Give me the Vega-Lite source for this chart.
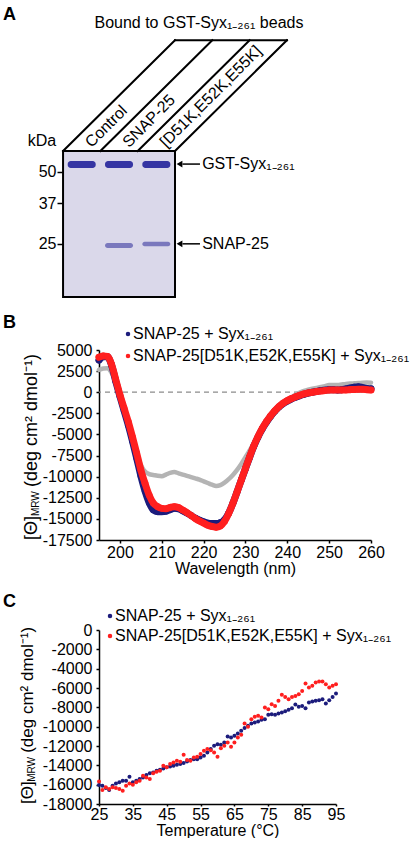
{
  "$schema": "https://vega.github.io/schema/vega-lite/v6.json",
  "background": "white",
  "padding": {"left": 3, "top": 6, "right": 0, "bottom": 0},
  "columns": 1,
  "spacing": 16,
  "align": "none",
  "resolve": {"scale": {"color": "independent"}, "legend": {"color": "independent"}},
  "config": {
    "font": "Liberation Sans",
    "view": {"stroke": null},
    "axis": {"labelFont": "Liberation Sans", "titleFont": "Liberation Sans", "labelFontSize": 16, "titleFontSize": 16, "titleFontWeight": "normal", "labelColor": "#000", "titleColor": "#000", "domainColor": "#000", "domainWidth": 1.5, "tickColor": "#000", "tickWidth": 1.5, "grid": false, "labelOverlap": false, "labelFlush": false},
    "legend": {"labelFont": "Liberation Sans", "labelFontSize": 16, "labelColor": "#000", "labelLimit": 500, "symbolType": "circle", "symbolSize": 20, "symbolStrokeWidth": 0, "symbolOpacity": 1, "padding": 0, "labelOffset": 0},
    "text": {"color": "#000", "font": "Liberation Sans"}
  },
  "datasets": {
    "gel": [
      {"lane_no": 1, "lane": "Control", "protein": "GST-Syx₁₋₂₆₁", "kDa_top": 55.4, "kDa_bottom": 51.8},
      {"lane_no": 2, "lane": "SNAP-25", "protein": "GST-Syx₁₋₂₆₁", "kDa_top": 55.4, "kDa_bottom": 51.8},
      {"lane_no": 3, "lane": "[D51K,E52K,E55K]", "protein": "GST-Syx₁₋₂₆₁", "kDa_top": 55.4, "kDa_bottom": 51.8},
      {"lane_no": 2, "lane": "SNAP-25", "protein": "SNAP-25", "kDa_top": 25.2, "kDa_bottom": 24.0},
      {"lane_no": 3, "lane": "[D51K,E52K,E55K]", "protein": "SNAP-25", "kDa_top": 25.5, "kDa_bottom": 24.4}
    ],
    "lanes": [{"lane_no": 1, "lane": "Control"}, {"lane_no": 2, "lane": "SNAP-25"}, {"lane_no": 3, "lane": "[D51K,E52K,E55K]"}],
    "header": [
      {"x_start": 0.5, "x_end": 3.5, "kDa_start": 61, "kDa_end": 177},
      {"x_start": 1.5, "x_end": 4.5, "kDa_start": 61, "kDa_end": 177},
      {"x_start": 2.5, "x_end": 5.5, "kDa_start": 61, "kDa_end": 177},
      {"x_start": 3.5, "x_end": 6.5, "kDa_start": 61, "kDa_end": 177},
      {"x_start": 3.5, "x_end": 6.5, "kDa_start": 177, "kDa_end": 177}
    ],
    "arrows": [{"target": "GST-Syx₁₋₂₆₁", "kDa": 53.8}, {"target": "SNAP-25", "kDa": 25.0}],
    "cd": [
      {"nm":195,"series":"Control","theta":2650},{"nm":196,"series":"Control","theta":2800},{"nm":197,"series":"Control","theta":2850},{"nm":198,"series":"Control","theta":2300},{"nm":199,"series":"Control","theta":1250},{"nm":200,"series":"Control","theta":-300},{"nm":201,"series":"Control","theta":-1900},{"nm":202,"series":"Control","theta":-3700},{"nm":203,"series":"Control","theta":-5500},{"nm":204,"series":"Control","theta":-7250},{"nm":205,"series":"Control","theta":-8600},{"nm":206,"series":"Control","theta":-9400},{"nm":207,"series":"Control","theta":-9700},{"nm":208,"series":"Control","theta":-9800},{"nm":209,"series":"Control","theta":-9900},{"nm":210,"series":"Control","theta":-9950},{"nm":211,"series":"Control","theta":-9750},{"nm":212,"series":"Control","theta":-9550},{"nm":213,"series":"Control","theta":-9450},{"nm":214,"series":"Control","theta":-9600},{"nm":215,"series":"Control","theta":-9750},{"nm":216,"series":"Control","theta":-9900},{"nm":217,"series":"Control","theta":-10050},{"nm":218,"series":"Control","theta":-10200},{"nm":219,"series":"Control","theta":-10350},{"nm":220,"series":"Control","theta":-10550},{"nm":221,"series":"Control","theta":-10750},{"nm":222,"series":"Control","theta":-10950},{"nm":223,"series":"Control","theta":-11100},{"nm":224,"series":"Control","theta":-11000},{"nm":225,"series":"Control","theta":-10700},{"nm":226,"series":"Control","theta":-10300},{"nm":227,"series":"Control","theta":-9800},{"nm":228,"series":"Control","theta":-9200},{"nm":229,"series":"Control","theta":-8500},{"nm":230,"series":"Control","theta":-7700},{"nm":231,"series":"Control","theta":-6900},{"nm":232,"series":"Control","theta":-6000},{"nm":233,"series":"Control","theta":-5100},{"nm":234,"series":"Control","theta":-4400},{"nm":235,"series":"Control","theta":-3750},{"nm":236,"series":"Control","theta":-3100},{"nm":237,"series":"Control","theta":-2450},{"nm":238,"series":"Control","theta":-1850},{"nm":239,"series":"Control","theta":-1350},{"nm":240,"series":"Control","theta":-950},{"nm":241,"series":"Control","theta":-600},{"nm":242,"series":"Control","theta":-300},{"nm":243,"series":"Control","theta":-50},{"nm":244,"series":"Control","theta":150},{"nm":245,"series":"Control","theta":300},{"nm":246,"series":"Control","theta":420},{"nm":247,"series":"Control","theta":520},{"nm":248,"series":"Control","theta":620},{"nm":249,"series":"Control","theta":720},{"nm":250,"series":"Control","theta":850},{"nm":251,"series":"Control","theta":870},{"nm":252,"series":"Control","theta":860},{"nm":253,"series":"Control","theta":920},{"nm":254,"series":"Control","theta":980},{"nm":255,"series":"Control","theta":1020},{"nm":256,"series":"Control","theta":1050},{"nm":257,"series":"Control","theta":1080},{"nm":258,"series":"Control","theta":1130},{"nm":259,"series":"Control","theta":1150},{"nm":260,"series":"Control","theta":1130},
      {"nm":195,"series":"SNAP-25 + Syx₁₋₂₆₁","theta":3800},{"nm":196,"series":"SNAP-25 + Syx₁₋₂₆₁","theta":4200},{"nm":197,"series":"SNAP-25 + Syx₁₋₂₆₁","theta":4200},{"nm":198,"series":"SNAP-25 + Syx₁₋₂₆₁","theta":3200},{"nm":199,"series":"SNAP-25 + Syx₁₋₂₆₁","theta":1300},{"nm":200,"series":"SNAP-25 + Syx₁₋₂₆₁","theta":-500},{"nm":201,"series":"SNAP-25 + Syx₁₋₂₆₁","theta":-2200},{"nm":202,"series":"SNAP-25 + Syx₁₋₂₆₁","theta":-3900},{"nm":203,"series":"SNAP-25 + Syx₁₋₂₆₁","theta":-5800},{"nm":204,"series":"SNAP-25 + Syx₁₋₂₆₁","theta":-7800},{"nm":205,"series":"SNAP-25 + Syx₁₋₂₆₁","theta":-9900},{"nm":206,"series":"SNAP-25 + Syx₁₋₂₆₁","theta":-11700},{"nm":207,"series":"SNAP-25 + Syx₁₋₂₆₁","theta":-13100},{"nm":208,"series":"SNAP-25 + Syx₁₋₂₆₁","theta":-13950},{"nm":209,"series":"SNAP-25 + Syx₁₋₂₆₁","theta":-14150},{"nm":210,"series":"SNAP-25 + Syx₁₋₂₆₁","theta":-14150},{"nm":211,"series":"SNAP-25 + Syx₁₋₂₆₁","theta":-14100},{"nm":212,"series":"SNAP-25 + Syx₁₋₂₆₁","theta":-13900},{"nm":213,"series":"SNAP-25 + Syx₁₋₂₆₁","theta":-13750},{"nm":214,"series":"SNAP-25 + Syx₁₋₂₆₁","theta":-13800},{"nm":215,"series":"SNAP-25 + Syx₁₋₂₆₁","theta":-14050},{"nm":216,"series":"SNAP-25 + Syx₁₋₂₆₁","theta":-14300},{"nm":217,"series":"SNAP-25 + Syx₁₋₂₆₁","theta":-14600},{"nm":218,"series":"SNAP-25 + Syx₁₋₂₆₁","theta":-14900},{"nm":219,"series":"SNAP-25 + Syx₁₋₂₆₁","theta":-15150},{"nm":220,"series":"SNAP-25 + Syx₁₋₂₆₁","theta":-15350},{"nm":221,"series":"SNAP-25 + Syx₁₋₂₆₁","theta":-15500},{"nm":222,"series":"SNAP-25 + Syx₁₋₂₆₁","theta":-15550},{"nm":223,"series":"SNAP-25 + Syx₁₋₂₆₁","theta":-15550},{"nm":224,"series":"SNAP-25 + Syx₁₋₂₆₁","theta":-15450},{"nm":225,"series":"SNAP-25 + Syx₁₋₂₆₁","theta":-15100},{"nm":226,"series":"SNAP-25 + Syx₁₋₂₆₁","theta":-14300},{"nm":227,"series":"SNAP-25 + Syx₁₋₂₆₁","theta":-13150},{"nm":228,"series":"SNAP-25 + Syx₁₋₂₆₁","theta":-11800},{"nm":229,"series":"SNAP-25 + Syx₁₋₂₆₁","theta":-10400},{"nm":230,"series":"SNAP-25 + Syx₁₋₂₆₁","theta":-9050},{"nm":231,"series":"SNAP-25 + Syx₁₋₂₆₁","theta":-7700},{"nm":232,"series":"SNAP-25 + Syx₁₋₂₆₁","theta":-6400},{"nm":233,"series":"SNAP-25 + Syx₁₋₂₆₁","theta":-5300},{"nm":234,"series":"SNAP-25 + Syx₁₋₂₆₁","theta":-4350},{"nm":235,"series":"SNAP-25 + Syx₁₋₂₆₁","theta":-3550},{"nm":236,"series":"SNAP-25 + Syx₁₋₂₆₁","theta":-2850},{"nm":237,"series":"SNAP-25 + Syx₁₋₂₆₁","theta":-2250},{"nm":238,"series":"SNAP-25 + Syx₁₋₂₆₁","theta":-1750},{"nm":239,"series":"SNAP-25 + Syx₁₋₂₆₁","theta":-1350},{"nm":240,"series":"SNAP-25 + Syx₁₋₂₆₁","theta":-1050},{"nm":241,"series":"SNAP-25 + Syx₁₋₂₆₁","theta":-800},{"nm":242,"series":"SNAP-25 + Syx₁₋₂₆₁","theta":-600},{"nm":243,"series":"SNAP-25 + Syx₁₋₂₆₁","theta":-400},{"nm":244,"series":"SNAP-25 + Syx₁₋₂₆₁","theta":-250},{"nm":245,"series":"SNAP-25 + Syx₁₋₂₆₁","theta":-100},{"nm":246,"series":"SNAP-25 + Syx₁₋₂₆₁","theta":0},{"nm":247,"series":"SNAP-25 + Syx₁₋₂₆₁","theta":100},{"nm":248,"series":"SNAP-25 + Syx₁₋₂₆₁","theta":200},{"nm":249,"series":"SNAP-25 + Syx₁₋₂₆₁","theta":250},{"nm":250,"series":"SNAP-25 + Syx₁₋₂₆₁","theta":300},{"nm":251,"series":"SNAP-25 + Syx₁₋₂₆₁","theta":300},{"nm":252,"series":"SNAP-25 + Syx₁₋₂₆₁","theta":250},{"nm":253,"series":"SNAP-25 + Syx₁₋₂₆₁","theta":300},{"nm":254,"series":"SNAP-25 + Syx₁₋₂₆₁","theta":400},{"nm":255,"series":"SNAP-25 + Syx₁₋₂₆₁","theta":500},{"nm":256,"series":"SNAP-25 + Syx₁₋₂₆₁","theta":600},{"nm":257,"series":"SNAP-25 + Syx₁₋₂₆₁","theta":650},{"nm":258,"series":"SNAP-25 + Syx₁₋₂₆₁","theta":550},{"nm":259,"series":"SNAP-25 + Syx₁₋₂₆₁","theta":450},{"nm":260,"series":"SNAP-25 + Syx₁₋₂₆₁","theta":400},
      {"nm":195,"series":"SNAP-25[D51K,E52K,E55K] + Syx₁₋₂₆₁","theta":4150},{"nm":196,"series":"SNAP-25[D51K,E52K,E55K] + Syx₁₋₂₆₁","theta":4300},{"nm":197,"series":"SNAP-25[D51K,E52K,E55K] + Syx₁₋₂₆₁","theta":4250},{"nm":198,"series":"SNAP-25[D51K,E52K,E55K] + Syx₁₋₂₆₁","theta":3300},{"nm":199,"series":"SNAP-25[D51K,E52K,E55K] + Syx₁₋₂₆₁","theta":1500},{"nm":200,"series":"SNAP-25[D51K,E52K,E55K] + Syx₁₋₂₆₁","theta":-300},{"nm":201,"series":"SNAP-25[D51K,E52K,E55K] + Syx₁₋₂₆₁","theta":-1900},{"nm":202,"series":"SNAP-25[D51K,E52K,E55K] + Syx₁₋₂₆₁","theta":-3500},{"nm":203,"series":"SNAP-25[D51K,E52K,E55K] + Syx₁₋₂₆₁","theta":-5300},{"nm":204,"series":"SNAP-25[D51K,E52K,E55K] + Syx₁₋₂₆₁","theta":-7200},{"nm":205,"series":"SNAP-25[D51K,E52K,E55K] + Syx₁₋₂₆₁","theta":-9200},{"nm":206,"series":"SNAP-25[D51K,E52K,E55K] + Syx₁₋₂₆₁","theta":-10800},{"nm":207,"series":"SNAP-25[D51K,E52K,E55K] + Syx₁₋₂₆₁","theta":-12200},{"nm":208,"series":"SNAP-25[D51K,E52K,E55K] + Syx₁₋₂₆₁","theta":-13150},{"nm":209,"series":"SNAP-25[D51K,E52K,E55K] + Syx₁₋₂₆₁","theta":-13550},{"nm":210,"series":"SNAP-25[D51K,E52K,E55K] + Syx₁₋₂₆₁","theta":-13750},{"nm":211,"series":"SNAP-25[D51K,E52K,E55K] + Syx₁₋₂₆₁","theta":-13800},{"nm":212,"series":"SNAP-25[D51K,E52K,E55K] + Syx₁₋₂₆₁","theta":-13650},{"nm":213,"series":"SNAP-25[D51K,E52K,E55K] + Syx₁₋₂₆₁","theta":-13550},{"nm":214,"series":"SNAP-25[D51K,E52K,E55K] + Syx₁₋₂₆₁","theta":-13650},{"nm":215,"series":"SNAP-25[D51K,E52K,E55K] + Syx₁₋₂₆₁","theta":-13950},{"nm":216,"series":"SNAP-25[D51K,E52K,E55K] + Syx₁₋₂₆₁","theta":-14250},{"nm":217,"series":"SNAP-25[D51K,E52K,E55K] + Syx₁₋₂₆₁","theta":-14600},{"nm":218,"series":"SNAP-25[D51K,E52K,E55K] + Syx₁₋₂₆₁","theta":-14950},{"nm":219,"series":"SNAP-25[D51K,E52K,E55K] + Syx₁₋₂₆₁","theta":-15250},{"nm":220,"series":"SNAP-25[D51K,E52K,E55K] + Syx₁₋₂₆₁","theta":-15500},{"nm":221,"series":"SNAP-25[D51K,E52K,E55K] + Syx₁₋₂₆₁","theta":-15750},{"nm":222,"series":"SNAP-25[D51K,E52K,E55K] + Syx₁₋₂₆₁","theta":-15900},{"nm":223,"series":"SNAP-25[D51K,E52K,E55K] + Syx₁₋₂₆₁","theta":-16000},{"nm":224,"series":"SNAP-25[D51K,E52K,E55K] + Syx₁₋₂₆₁","theta":-15850},{"nm":225,"series":"SNAP-25[D51K,E52K,E55K] + Syx₁₋₂₆₁","theta":-15300},{"nm":226,"series":"SNAP-25[D51K,E52K,E55K] + Syx₁₋₂₆₁","theta":-14350},{"nm":227,"series":"SNAP-25[D51K,E52K,E55K] + Syx₁₋₂₆₁","theta":-13150},{"nm":228,"series":"SNAP-25[D51K,E52K,E55K] + Syx₁₋₂₆₁","theta":-11800},{"nm":229,"series":"SNAP-25[D51K,E52K,E55K] + Syx₁₋₂₆₁","theta":-10400},{"nm":230,"series":"SNAP-25[D51K,E52K,E55K] + Syx₁₋₂₆₁","theta":-9000},{"nm":231,"series":"SNAP-25[D51K,E52K,E55K] + Syx₁₋₂₆₁","theta":-7650},{"nm":232,"series":"SNAP-25[D51K,E52K,E55K] + Syx₁₋₂₆₁","theta":-6350},{"nm":233,"series":"SNAP-25[D51K,E52K,E55K] + Syx₁₋₂₆₁","theta":-5250},{"nm":234,"series":"SNAP-25[D51K,E52K,E55K] + Syx₁₋₂₆₁","theta":-4300},{"nm":235,"series":"SNAP-25[D51K,E52K,E55K] + Syx₁₋₂₆₁","theta":-3500},{"nm":236,"series":"SNAP-25[D51K,E52K,E55K] + Syx₁₋₂₆₁","theta":-2800},{"nm":237,"series":"SNAP-25[D51K,E52K,E55K] + Syx₁₋₂₆₁","theta":-2200},{"nm":238,"series":"SNAP-25[D51K,E52K,E55K] + Syx₁₋₂₆₁","theta":-1700},{"nm":239,"series":"SNAP-25[D51K,E52K,E55K] + Syx₁₋₂₆₁","theta":-1300},{"nm":240,"series":"SNAP-25[D51K,E52K,E55K] + Syx₁₋₂₆₁","theta":-1000},{"nm":241,"series":"SNAP-25[D51K,E52K,E55K] + Syx₁₋₂₆₁","theta":-750},{"nm":242,"series":"SNAP-25[D51K,E52K,E55K] + Syx₁₋₂₆₁","theta":-550},{"nm":243,"series":"SNAP-25[D51K,E52K,E55K] + Syx₁₋₂₆₁","theta":-350},{"nm":244,"series":"SNAP-25[D51K,E52K,E55K] + Syx₁₋₂₆₁","theta":-200},{"nm":245,"series":"SNAP-25[D51K,E52K,E55K] + Syx₁₋₂₆₁","theta":-80},{"nm":246,"series":"SNAP-25[D51K,E52K,E55K] + Syx₁₋₂₆₁","theta":0},{"nm":247,"series":"SNAP-25[D51K,E52K,E55K] + Syx₁₋₂₆₁","theta":80},{"nm":248,"series":"SNAP-25[D51K,E52K,E55K] + Syx₁₋₂₆₁","theta":150},{"nm":249,"series":"SNAP-25[D51K,E52K,E55K] + Syx₁₋₂₆₁","theta":200},{"nm":250,"series":"SNAP-25[D51K,E52K,E55K] + Syx₁₋₂₆₁","theta":250},{"nm":251,"series":"SNAP-25[D51K,E52K,E55K] + Syx₁₋₂₆₁","theta":260},{"nm":252,"series":"SNAP-25[D51K,E52K,E55K] + Syx₁₋₂₆₁","theta":260},{"nm":253,"series":"SNAP-25[D51K,E52K,E55K] + Syx₁₋₂₆₁","theta":250},{"nm":254,"series":"SNAP-25[D51K,E52K,E55K] + Syx₁₋₂₆₁","theta":270},{"nm":255,"series":"SNAP-25[D51K,E52K,E55K] + Syx₁₋₂₆₁","theta":300},{"nm":256,"series":"SNAP-25[D51K,E52K,E55K] + Syx₁₋₂₆₁","theta":330},{"nm":257,"series":"SNAP-25[D51K,E52K,E55K] + Syx₁₋₂₆₁","theta":350},{"nm":258,"series":"SNAP-25[D51K,E52K,E55K] + Syx₁₋₂₆₁","theta":340},{"nm":259,"series":"SNAP-25[D51K,E52K,E55K] + Syx₁₋₂₆₁","theta":300},{"nm":260,"series":"SNAP-25[D51K,E52K,E55K] + Syx₁₋₂₆₁","theta":260}
    ],
    "melt": [
      {"temp":25,"series":"SNAP-25 + Syx₁₋₂₆₁","theta":-16040},{"temp":26,"series":"SNAP-25 + Syx₁₋₂₆₁","theta":-16110},{"temp":27,"series":"SNAP-25 + Syx₁₋₂₆₁","theta":-16350},{"temp":28,"series":"SNAP-25 + Syx₁₋₂₆₁","theta":-16560},{"temp":29,"series":"SNAP-25 + Syx₁₋₂₆₁","theta":-16110},{"temp":30,"series":"SNAP-25 + Syx₁₋₂₆₁","theta":-15870},{"temp":31,"series":"SNAP-25 + Syx₁₋₂₆₁","theta":-15760},{"temp":32,"series":"SNAP-25 + Syx₁₋₂₆₁","theta":-15590},{"temp":33,"series":"SNAP-25 + Syx₁₋₂₆₁","theta":-15590},{"temp":34,"series":"SNAP-25 + Syx₁₋₂₆₁","theta":-15180},{"temp":35,"series":"SNAP-25 + Syx₁₋₂₆₁","theta":-15760},{"temp":36,"series":"SNAP-25 + Syx₁₋₂₆₁","theta":-15590},{"temp":37,"series":"SNAP-25 + Syx₁₋₂₆₁","theta":-15420},{"temp":38,"series":"SNAP-25 + Syx₁₋₂₆₁","theta":-15250},{"temp":39,"series":"SNAP-25 + Syx₁₋₂₆₁","theta":-15010},{"temp":40,"series":"SNAP-25 + Syx₁₋₂₆₁","theta":-14830},{"temp":41,"series":"SNAP-25 + Syx₁₋₂₆₁","theta":-14730},{"temp":42,"series":"SNAP-25 + Syx₁₋₂₆₁","theta":-14560},{"temp":43,"series":"SNAP-25 + Syx₁₋₂₆₁","theta":-14460},{"temp":44,"series":"SNAP-25 + Syx₁₋₂₆₁","theta":-14320},{"temp":45,"series":"SNAP-25 + Syx₁₋₂₆₁","theta":-14210},{"temp":46,"series":"SNAP-25 + Syx₁₋₂₆₁","theta":-14110},{"temp":47,"series":"SNAP-25 + Syx₁₋₂₆₁","theta":-14040},{"temp":48,"series":"SNAP-25 + Syx₁₋₂₆₁","theta":-13940},{"temp":49,"series":"SNAP-25 + Syx₁₋₂₆₁","theta":-13870},{"temp":50,"series":"SNAP-25 + Syx₁₋₂₆₁","theta":-13770},{"temp":51,"series":"SNAP-25 + Syx₁₋₂₆₁","theta":-13600},{"temp":52,"series":"SNAP-25 + Syx₁₋₂₆₁","theta":-13460},{"temp":53,"series":"SNAP-25 + Syx₁₋₂₆₁","theta":-13360},{"temp":54,"series":"SNAP-25 + Syx₁₋₂₆₁","theta":-13360},{"temp":55,"series":"SNAP-25 + Syx₁₋₂₆₁","theta":-13180},{"temp":56,"series":"SNAP-25 + Syx₁₋₂₆₁","theta":-13010},{"temp":57,"series":"SNAP-25 + Syx₁₋₂₆₁","theta":-12670},{"temp":58,"series":"SNAP-25 + Syx₁₋₂₆₁","theta":-12320},{"temp":59,"series":"SNAP-25 + Syx₁₋₂₆₁","theta":-11980},{"temp":60,"series":"SNAP-25 + Syx₁₋₂₆₁","theta":-11810},{"temp":61,"series":"SNAP-25 + Syx₁₋₂₆₁","theta":-11880},{"temp":62,"series":"SNAP-25 + Syx₁₋₂₆₁","theta":-11630},{"temp":63,"series":"SNAP-25 + Syx₁₋₂₆₁","theta":-11010},{"temp":64,"series":"SNAP-25 + Syx₁₋₂₆₁","theta":-11120},{"temp":65,"series":"SNAP-25 + Syx₁₋₂₆₁","theta":-10950},{"temp":66,"series":"SNAP-25 + Syx₁₋₂₆₁","theta":-10710},{"temp":67,"series":"SNAP-25 + Syx₁₋₂₆₁","theta":-10430},{"temp":68,"series":"SNAP-25 + Syx₁₋₂₆₁","theta":-10150},{"temp":69,"series":"SNAP-25 + Syx₁₋₂₆₁","theta":-9910},{"temp":70,"series":"SNAP-25 + Syx₁₋₂₆₁","theta":-9670},{"temp":71,"series":"SNAP-25 + Syx₁₋₂₆₁","theta":-9570},{"temp":72,"series":"SNAP-25 + Syx₁₋₂₆₁","theta":-9470},{"temp":73,"series":"SNAP-25 + Syx₁₋₂₆₁","theta":-9290},{"temp":74,"series":"SNAP-25 + Syx₁₋₂₆₁","theta":-9220},{"temp":75,"series":"SNAP-25 + Syx₁₋₂₆₁","theta":-8780},{"temp":76,"series":"SNAP-25 + Syx₁₋₂₆₁","theta":-8710},{"temp":77,"series":"SNAP-25 + Syx₁₋₂₆₁","theta":-8780},{"temp":78,"series":"SNAP-25 + Syx₁₋₂₆₁","theta":-8640},{"temp":79,"series":"SNAP-25 + Syx₁₋₂₆₁","theta":-8540},{"temp":80,"series":"SNAP-25 + Syx₁₋₂₆₁","theta":-8400},{"temp":81,"series":"SNAP-25 + Syx₁₋₂₆₁","theta":-8250},{"temp":82,"series":"SNAP-25 + Syx₁₋₂₆₁","theta":-8090},{"temp":83,"series":"SNAP-25 + Syx₁₋₂₆₁","theta":-7700},{"temp":84,"series":"SNAP-25 + Syx₁₋₂₆₁","theta":-7950},{"temp":85,"series":"SNAP-25 + Syx₁₋₂₆₁","theta":-7850},{"temp":86,"series":"SNAP-25 + Syx₁₋₂₆₁","theta":-8090},{"temp":87,"series":"SNAP-25 + Syx₁₋₂₆₁","theta":-7500},{"temp":88,"series":"SNAP-25 + Syx₁₋₂₆₁","theta":-7400},{"temp":89,"series":"SNAP-25 + Syx₁₋₂₆₁","theta":-7330},{"temp":90,"series":"SNAP-25 + Syx₁₋₂₆₁","theta":-7260},{"temp":91,"series":"SNAP-25 + Syx₁₋₂₆₁","theta":-7160},{"temp":92,"series":"SNAP-25 + Syx₁₋₂₆₁","theta":-7610},{"temp":93,"series":"SNAP-25 + Syx₁₋₂₆₁","theta":-7260},{"temp":94,"series":"SNAP-25 + Syx₁₋₂₆₁","theta":-6920},{"temp":95,"series":"SNAP-25 + Syx₁₋₂₆₁","theta":-6570},
      {"temp":25,"series":"SNAP-25[D51K,E52K,E55K] + Syx₁₋₂₆₁","theta":-15660},{"temp":26,"series":"SNAP-25[D51K,E52K,E55K] + Syx₁₋₂₆₁","theta":-16560},{"temp":27,"series":"SNAP-25[D51K,E52K,E55K] + Syx₁₋₂₆₁","theta":-16280},{"temp":28,"series":"SNAP-25[D51K,E52K,E55K] + Syx₁₋₂₆₁","theta":-16450},{"temp":29,"series":"SNAP-25[D51K,E52K,E55K] + Syx₁₋₂₆₁","theta":-16280},{"temp":30,"series":"SNAP-25[D51K,E52K,E55K] + Syx₁₋₂₆₁","theta":-16350},{"temp":31,"series":"SNAP-25[D51K,E52K,E55K] + Syx₁₋₂₆₁","theta":-16450},{"temp":32,"series":"SNAP-25[D51K,E52K,E55K] + Syx₁₋₂₆₁","theta":-16630},{"temp":33,"series":"SNAP-25[D51K,E52K,E55K] + Syx₁₋₂₆₁","theta":-16110},{"temp":34,"series":"SNAP-25[D51K,E52K,E55K] + Syx₁₋₂₆₁","theta":-15870},{"temp":35,"series":"SNAP-25[D51K,E52K,E55K] + Syx₁₋₂₆₁","theta":-16010},{"temp":36,"series":"SNAP-25[D51K,E52K,E55K] + Syx₁₋₂₆₁","theta":-15760},{"temp":37,"series":"SNAP-25[D51K,E52K,E55K] + Syx₁₋₂₆₁","theta":-15590},{"temp":38,"series":"SNAP-25[D51K,E52K,E55K] + Syx₁₋₂₆₁","theta":-15080},{"temp":39,"series":"SNAP-25[D51K,E52K,E55K] + Syx₁₋₂₆₁","theta":-15250},{"temp":40,"series":"SNAP-25[D51K,E52K,E55K] + Syx₁₋₂₆₁","theta":-15420},{"temp":41,"series":"SNAP-25[D51K,E52K,E55K] + Syx₁₋₂₆₁","theta":-14830},{"temp":42,"series":"SNAP-25[D51K,E52K,E55K] + Syx₁₋₂₆₁","theta":-14660},{"temp":43,"series":"SNAP-25[D51K,E52K,E55K] + Syx₁₋₂₆₁","theta":-14560},{"temp":44,"series":"SNAP-25[D51K,E52K,E55K] + Syx₁₋₂₆₁","theta":-14040},{"temp":45,"series":"SNAP-25[D51K,E52K,E55K] + Syx₁₋₂₆₁","theta":-14210},{"temp":46,"series":"SNAP-25[D51K,E52K,E55K] + Syx₁₋₂₆₁","theta":-13870},{"temp":47,"series":"SNAP-25[D51K,E52K,E55K] + Syx₁₋₂₆₁","theta":-13700},{"temp":48,"series":"SNAP-25[D51K,E52K,E55K] + Syx₁₋₂₆₁","theta":-13530},{"temp":49,"series":"SNAP-25[D51K,E52K,E55K] + Syx₁₋₂₆₁","theta":-13630},{"temp":50,"series":"SNAP-25[D51K,E52K,E55K] + Syx₁₋₂₆₁","theta":-12910},{"temp":51,"series":"SNAP-25[D51K,E52K,E55K] + Syx₁₋₂₆₁","theta":-13460},{"temp":52,"series":"SNAP-25[D51K,E52K,E55K] + Syx₁₋₂₆₁","theta":-13530},{"temp":53,"series":"SNAP-25[D51K,E52K,E55K] + Syx₁₋₂₆₁","theta":-13180},{"temp":54,"series":"SNAP-25[D51K,E52K,E55K] + Syx₁₋₂₆₁","theta":-13110},{"temp":55,"series":"SNAP-25[D51K,E52K,E55K] + Syx₁₋₂₆₁","theta":-12840},{"temp":56,"series":"SNAP-25[D51K,E52K,E55K] + Syx₁₋₂₆₁","theta":-12490},{"temp":57,"series":"SNAP-25[D51K,E52K,E55K] + Syx₁₋₂₆₁","theta":-12320},{"temp":58,"series":"SNAP-25[D51K,E52K,E55K] + Syx₁₋₂₆₁","theta":-12430},{"temp":59,"series":"SNAP-25[D51K,E52K,E55K] + Syx₁₋₂₆₁","theta":-12670},{"temp":60,"series":"SNAP-25[D51K,E52K,E55K] + Syx₁₋₂₆₁","theta":-13110},{"temp":61,"series":"SNAP-25[D51K,E52K,E55K] + Syx₁₋₂₆₁","theta":-12220},{"temp":62,"series":"SNAP-25[D51K,E52K,E55K] + Syx₁₋₂₆₁","theta":-11980},{"temp":63,"series":"SNAP-25[D51K,E52K,E55K] + Syx₁₋₂₆₁","theta":-11630},{"temp":64,"series":"SNAP-25[D51K,E52K,E55K] + Syx₁₋₂₆₁","theta":-12080},{"temp":65,"series":"SNAP-25[D51K,E52K,E55K] + Syx₁₋₂₆₁","theta":-11630},{"temp":66,"series":"SNAP-25[D51K,E52K,E55K] + Syx₁₋₂₆₁","theta":-11120},{"temp":67,"series":"SNAP-25[D51K,E52K,E55K] + Syx₁₋₂₆₁","theta":-10840},{"temp":68,"series":"SNAP-25[D51K,E52K,E55K] + Syx₁₋₂₆₁","theta":-9670},{"temp":69,"series":"SNAP-25[D51K,E52K,E55K] + Syx₁₋₂₆₁","theta":-10020},{"temp":70,"series":"SNAP-25[D51K,E52K,E55K] + Syx₁₋₂₆₁","theta":-9220},{"temp":71,"series":"SNAP-25[D51K,E52K,E55K] + Syx₁₋₂₆₁","theta":-8980},{"temp":72,"series":"SNAP-25[D51K,E52K,E55K] + Syx₁₋₂₆₁","theta":-8880},{"temp":73,"series":"SNAP-25[D51K,E52K,E55K] + Syx₁₋₂₆₁","theta":-9050},{"temp":74,"series":"SNAP-25[D51K,E52K,E55K] + Syx₁₋₂₆₁","theta":-8020},{"temp":75,"series":"SNAP-25[D51K,E52K,E55K] + Syx₁₋₂₆₁","theta":-8190},{"temp":76,"series":"SNAP-25[D51K,E52K,E55K] + Syx₁₋₂₆₁","theta":-7680},{"temp":77,"series":"SNAP-25[D51K,E52K,E55K] + Syx₁₋₂₆₁","theta":-7850},{"temp":78,"series":"SNAP-25[D51K,E52K,E55K] + Syx₁₋₂₆₁","theta":-7330},{"temp":79,"series":"SNAP-25[D51K,E52K,E55K] + Syx₁₋₂₆₁","theta":-6710},{"temp":80,"series":"SNAP-25[D51K,E52K,E55K] + Syx₁₋₂₆₁","theta":-6920},{"temp":81,"series":"SNAP-25[D51K,E52K,E55K] + Syx₁₋₂₆₁","theta":-7160},{"temp":82,"series":"SNAP-25[D51K,E52K,E55K] + Syx₁₋₂₆₁","theta":-6920},{"temp":83,"series":"SNAP-25[D51K,E52K,E55K] + Syx₁₋₂₆₁","theta":-6820},{"temp":84,"series":"SNAP-25[D51K,E52K,E55K] + Syx₁₋₂₆₁","theta":-6640},{"temp":85,"series":"SNAP-25[D51K,E52K,E55K] + Syx₁₋₂₆₁","theta":-6300},{"temp":86,"series":"SNAP-25[D51K,E52K,E55K] + Syx₁₋₂₆₁","theta":-5540},{"temp":87,"series":"SNAP-25[D51K,E52K,E55K] + Syx₁₋₂₆₁","theta":-5950},{"temp":88,"series":"SNAP-25[D51K,E52K,E55K] + Syx₁₋₂₆₁","theta":-5780},{"temp":89,"series":"SNAP-25[D51K,E52K,E55K] + Syx₁₋₂₆₁","theta":-5440},{"temp":90,"series":"SNAP-25[D51K,E52K,E55K] + Syx₁₋₂₆₁","theta":-5340},{"temp":91,"series":"SNAP-25[D51K,E52K,E55K] + Syx₁₋₂₆₁","theta":-5340},{"temp":92,"series":"SNAP-25[D51K,E52K,E55K] + Syx₁₋₂₆₁","theta":-5610},{"temp":93,"series":"SNAP-25[D51K,E52K,E55K] + Syx₁₋₂₆₁","theta":-5950},{"temp":94,"series":"SNAP-25[D51K,E52K,E55K] + Syx₁₋₂₆₁","theta":-5780},{"temp":95,"series":"SNAP-25[D51K,E52K,E55K] + Syx₁₋₂₆₁","theta":-5610}
    ]
  },
  "concat": [
    {
      "width": 76,
      "height": 146,
      "layer": [
        {
          "data": {"values": [{"gel": "Coomassie-stained SDS-PAGE"}]},
          "mark": {"type": "rect", "fill": "#dad8ea", "stroke": "#000", "strokeWidth": 2},
          "encoding": {
            "x": {"datum": 0.5, "type": "quantitative", "scale": {"domain": [1.4634, 3.5], "nice": false, "zero": false, "padding": 0}, "axis": null},
            "x2": {"datum": 3.5},
            "y": {"datum": 15, "type": "quantitative", "scale": {"type": "log", "domain": [15, 61], "nice": false}},
            "y2": {"datum": 61}
          }
        },
        {
          "data": {"name": "gel"},
          "mark": {"type": "bar", "width": 28, "cornerRadius": 3, "orient": "vertical"},
          "encoding": {
            "x": {"field": "lane_no", "type": "quantitative", "scale": {"domain": [1.4634, 3.5], "nice": false, "zero": false, "padding": 0}, "axis": null},
            "y": {"field": "kDa_top", "type": "quantitative", "scale": {"type": "log", "domain": [15, 61], "nice": false}, "axis": {"values": [25, 37, 50], "tickCount": 50, "format": "d", "title": "kDa", "titleAngle": 0, "titleAlign": "center", "titleBaseline": "middle", "titleX": -21.5, "titleY": -11, "tickSize": 6, "labelPadding": 1, "domain": false, "offset": 36, "labelOverlap": false}},
            "y2": {"field": "kDa_bottom"},
            "color": {"field": "protein", "type": "nominal", "scale": {"domain": ["GST-Syx₁₋₂₆₁", "SNAP-25"], "range": ["#3535a3", "#7a78bd"]}, "legend": null}
          }
        },
        {
          "data": {"name": "lanes"},
          "mark": {"type": "text", "angle": 315, "align": "left", "baseline": "middle", "fontSize": 16, "dx": 9},
          "encoding": {
            "x": {"field": "lane_no", "type": "quantitative", "scale": {"domain": [1.4634, 3.5], "nice": false, "zero": false, "padding": 0}, "axis": null},
            "y": {"datum": 61, "type": "quantitative", "scale": {"type": "log", "domain": [15, 61], "nice": false}},
            "text": {"field": "lane"}
          }
        },
        {
          "data": {"name": "header"},
          "mark": {"type": "rule", "strokeWidth": 2, "color": "#000", "strokeCap": "square"},
          "encoding": {
            "x": {"field": "x_start", "type": "quantitative", "scale": {"domain": [1.4634, 3.5], "nice": false, "zero": false, "padding": 0}, "axis": null},
            "x2": {"field": "x_end"},
            "y": {"field": "kDa_start", "type": "quantitative", "scale": {"type": "log", "domain": [15, 61], "nice": false}},
            "y2": {"field": "kDa_end"}
          }
        },
        {
          "data": {"name": "arrows"},
          "mark": {"type": "rule", "strokeWidth": 1.5, "color": "#000"},
          "encoding": {
            "x": {"datum": 3.7, "type": "quantitative", "scale": {"domain": [1.4634, 3.5], "nice": false, "zero": false, "padding": 0}, "axis": null},
            "x2": {"datum": 4.169},
            "y": {"field": "kDa", "type": "quantitative", "scale": {"type": "log", "domain": [15, 61], "nice": false}}
          }
        },
        {
          "data": {"name": "arrows"},
          "mark": {"type": "point", "shape": "triangle-left", "filled": true, "size": 45, "color": "#000", "opacity": 1},
          "encoding": {
            "x": {"datum": 3.62, "type": "quantitative", "scale": {"domain": [1.4634, 3.5], "nice": false, "zero": false, "padding": 0}, "axis": null},
            "y": {"field": "kDa", "type": "quantitative", "scale": {"type": "log", "domain": [15, 61], "nice": false}}
          }
        },
        {
          "data": {"name": "arrows"},
          "mark": {"type": "text", "align": "left", "baseline": "middle", "fontSize": 16},
          "encoding": {
            "x": {"datum": 4.228, "type": "quantitative", "scale": {"domain": [1.4634, 3.5], "nice": false, "zero": false, "padding": 0}, "axis": null},
            "y": {"field": "kDa", "type": "quantitative", "scale": {"type": "log", "domain": [15, 61], "nice": false}},
            "text": {"field": "target"}
          }
        },
        {
          "data": {"values": [{"caption": "Bound to GST-Syx₁₋₂₆₁ beads"}]},
          "mark": {"type": "text", "align": "center", "baseline": "middle", "fontSize": 16},
          "encoding": {
            "x": {"datum": 4.142, "type": "quantitative", "scale": {"domain": [1.4634, 3.5], "nice": false, "zero": false, "padding": 0}, "axis": null},
            "y": {"datum": 208.7, "type": "quantitative", "scale": {"type": "log", "domain": [15, 61], "nice": false}},
            "text": {"field": "caption"}
          }
        },
        {
          "data": {"values": [{"panel": "A"}]},
          "mark": {"type": "text", "align": "left", "baseline": "middle", "fontSize": 18, "fontWeight": "bold"},
          "encoding": {
            "x": {"datum": -1.108, "type": "quantitative", "scale": {"domain": [1.4634, 3.5], "nice": false, "zero": false, "padding": 0}, "axis": null},
            "y": {"datum": 225, "type": "quantitative", "scale": {"type": "log", "domain": [15, 61], "nice": false}},
            "text": {"field": "panel"}
          }
        }
      ]
    },
    {
      "width": 272,
      "height": 190,
      "layer": [
        {
          "data": {"values": [{"theta": 0}]},
          "mark": {"type": "rule", "strokeDash": [5, 4], "color": "#8c8c8c", "strokeWidth": 1.2},
          "encoding": {"y": {"field": "theta", "type": "quantitative", "scale": {"domain": [-17500, 5000], "nice": false, "zero": false}}}
        },
        {
          "data": {"name": "cd"},
          "transform": [{"filter": {"field": "series", "equal": "Control"}}],
          "mark": {"type": "line", "color": "#b4b4b4", "strokeWidth": 4.5, "interpolate": "monotone", "strokeCap": "round", "strokeJoin": "round"},
          "encoding": {
            "x": {"field": "nm", "type": "quantitative", "scale": {"domain": [195, 260], "nice": false, "zero": false}, "axis": {"values": [200, 210, 220, 230, 240, 250, 260], "tickCount": 50, "title": "Wavelength (nm)", "tickSize": 3, "labelPadding": 1, "titlePadding": 0, "labelOverlap": false}},
            "y": {"field": "theta", "type": "quantitative", "scale": {"domain": [-17500, 5000], "nice": false, "zero": false}, "axis": {"values": [-17500, -15000, -12500, -10000, -7500, -5000, -2500, 0, 2500, 5000], "tickCount": 50, "labelExpr": "'' + datum.value", "title": null, "tickSize": 3, "labelPadding": 4, "labelOverlap": false}}
          }
        },
        {
          "data": {"name": "cd"},
          "transform": [{"filter": {"field": "series", "equal": "SNAP-25 + Syx₁₋₂₆₁"}}],
          "mark": {"type": "line", "color": "#1c1c7c", "strokeWidth": 7, "interpolate": "monotone", "strokeCap": "round", "strokeJoin": "round"},
          "encoding": {
            "x": {"field": "nm", "type": "quantitative", "scale": {"domain": [195, 260], "nice": false, "zero": false}},
            "y": {"field": "theta", "type": "quantitative", "scale": {"domain": [-17500, 5000], "nice": false, "zero": false}}
          }
        },
        {
          "data": {"name": "cd"},
          "transform": [{"filter": {"field": "series", "equal": "SNAP-25 + Syx₁₋₂₆₁"}}],
          "mark": {"type": "circle", "size": 44, "opacity": 1},
          "encoding": {
            "x": {"field": "nm", "type": "quantitative", "scale": {"domain": [195, 260], "nice": false, "zero": false}},
            "y": {"field": "theta", "type": "quantitative", "scale": {"domain": [-17500, 5000], "nice": false, "zero": false}},
            "color": {"field": "series", "type": "nominal", "scale": {"domain": ["SNAP-25 + Syx₁₋₂₆₁", "SNAP-25[D51K,E52K,E55K] + Syx₁₋₂₆₁"], "range": ["#1c1c7c", "#ff1f1f"]}, "legend": {"orient": "none", "legendX": 21, "legendY": -24, "title": null, "rowPadding": 6, "symbolSize": 20, "labelOffset": -3}}
          }
        },
        {
          "data": {"name": "cd"},
          "transform": [{"filter": {"field": "series", "equal": "SNAP-25[D51K,E52K,E55K] + Syx₁₋₂₆₁"}}],
          "mark": {"type": "line", "color": "#ff1f1f", "strokeWidth": 7, "interpolate": "monotone", "strokeCap": "round", "strokeJoin": "round"},
          "encoding": {
            "x": {"field": "nm", "type": "quantitative", "scale": {"domain": [195, 260], "nice": false, "zero": false}},
            "y": {"field": "theta", "type": "quantitative", "scale": {"domain": [-17500, 5000], "nice": false, "zero": false}}
          }
        },
        {
          "data": {"name": "cd"},
          "transform": [{"filter": {"field": "series", "equal": "SNAP-25[D51K,E52K,E55K] + Syx₁₋₂₆₁"}}],
          "mark": {"type": "circle", "size": 44, "opacity": 1},
          "encoding": {
            "x": {"field": "nm", "type": "quantitative", "scale": {"domain": [195, 260], "nice": false, "zero": false}},
            "y": {"field": "theta", "type": "quantitative", "scale": {"domain": [-17500, 5000], "nice": false, "zero": false}},
            "color": {"field": "series", "type": "nominal", "scale": {"domain": ["SNAP-25 + Syx₁₋₂₆₁", "SNAP-25[D51K,E52K,E55K] + Syx₁₋₂₆₁"], "range": ["#1c1c7c", "#ff1f1f"]}, "legend": {"orient": "none", "legendX": 21, "legendY": -24, "title": null, "rowPadding": 6, "symbolSize": 20, "labelOffset": -3}}
          }
        },
        {
          "data": {"values": [{"panel": "B"}]},
          "mark": {"type": "text", "align": "left", "baseline": "middle", "fontSize": 18, "fontWeight": "bold"},
          "encoding": {
            "x": {"datum": 172.06, "type": "quantitative", "scale": {"domain": [195, 260], "nice": false, "zero": false}},
            "y": {"datum": 8197, "type": "quantitative", "scale": {"domain": [-17500, 5000], "nice": false, "zero": false}},
            "text": {"field": "panel"}
          }
        },
        {
          "data": {"values": [{"piece": "[Θ]", "nm": 178.92, "theta": -17500}, {"piece": "(deg cm² dmol⁻¹)", "nm": 178.92, "theta": -11224}]},
          "mark": {"type": "text", "angle": 270, "align": "left", "baseline": "middle", "fontSize": 18},
          "encoding": {
            "x": {"field": "nm", "type": "quantitative", "scale": {"domain": [195, 260], "nice": false, "zero": false}},
            "y": {"field": "theta", "type": "quantitative", "scale": {"domain": [-17500, 5000], "nice": false, "zero": false}},
            "text": {"field": "piece"}
          }
        },
        {
          "data": {"values": [{"piece": "MRW", "nm": 179.94, "theta": -14658}]},
          "mark": {"type": "text", "angle": 270, "align": "left", "baseline": "middle", "fontSize": 10},
          "encoding": {
            "x": {"field": "nm", "type": "quantitative", "scale": {"domain": [195, 260], "nice": false, "zero": false}},
            "y": {"field": "theta", "type": "quantitative", "scale": {"domain": [-17500, 5000], "nice": false, "zero": false}},
            "text": {"field": "piece"}
          }
        }
      ]
    },
    {
      "width": 237,
      "height": 174,
      "layer": [
        {
          "data": {"name": "melt"},
          "mark": {"type": "circle", "size": 16, "opacity": 1},
          "encoding": {
            "x": {"field": "temp", "type": "quantitative", "scale": {"domain": [25, 95], "nice": false, "zero": false}, "axis": {"values": [25, 35, 45, 55, 65, 75, 85, 95], "tickCount": 50, "title": "Temperature (°C)", "tickSize": 2, "labelPadding": 0, "titlePadding": 0, "labelOverlap": false}},
            "y": {"field": "theta", "type": "quantitative", "scale": {"domain": [-18000, 0], "nice": false, "zero": false}, "axis": {"values": [-18000, -16000, -14000, -12000, -10000, -8000, -6000, -4000, -2000, 0], "tickCount": 50, "labelExpr": "'' + datum.value", "title": null, "tickSize": 3, "labelPadding": 4, "labelOverlap": false}},
            "color": {"field": "series", "type": "nominal", "scale": {"domain": ["SNAP-25 + Syx₁₋₂₆₁", "SNAP-25[D51K,E52K,E55K] + Syx₁₋₂₆₁"], "range": ["#1c1c7c", "#ff1f1f"]}, "legend": {"orient": "none", "legendX": 3, "legendY": -22, "title": null, "rowPadding": 4, "symbolSize": 20, "labelOffset": -3}}
          }
        },
        {
          "data": {"values": [{"panel": "C"}]},
          "mark": {"type": "text", "align": "left", "baseline": "middle", "fontSize": 18, "fontWeight": "bold"},
          "encoding": {
            "x": {"datum": -3.35, "type": "quantitative", "scale": {"domain": [25, 95], "nice": false, "zero": false}},
            "y": {"datum": 2897, "type": "quantitative", "scale": {"domain": [-18000, 0], "nice": false, "zero": false}},
            "text": {"field": "panel"}
          }
        },
        {
          "data": {"values": [{"piece": "[Θ]", "temp": 3.94, "theta": -18000}, {"piece": "(deg cm² dmol⁻¹)", "temp": 3.94, "theta": -12704}]},
          "mark": {"type": "text", "angle": 270, "align": "left", "baseline": "middle", "fontSize": 17},
          "encoding": {
            "x": {"field": "temp", "type": "quantitative", "scale": {"domain": [25, 95], "nice": false, "zero": false}},
            "y": {"field": "theta", "type": "quantitative", "scale": {"domain": [-18000, 0], "nice": false, "zero": false}},
            "text": {"field": "piece"}
          }
        },
        {
          "data": {"values": [{"piece": "MRW", "temp": 5.12, "theta": -15704}]},
          "mark": {"type": "text", "angle": 270, "align": "left", "baseline": "middle", "fontSize": 10},
          "encoding": {
            "x": {"field": "temp", "type": "quantitative", "scale": {"domain": [25, 95], "nice": false, "zero": false}},
            "y": {"field": "theta", "type": "quantitative", "scale": {"domain": [-18000, 0], "nice": false, "zero": false}},
            "text": {"field": "piece"}
          }
        }
      ]
    }
  ]
}
